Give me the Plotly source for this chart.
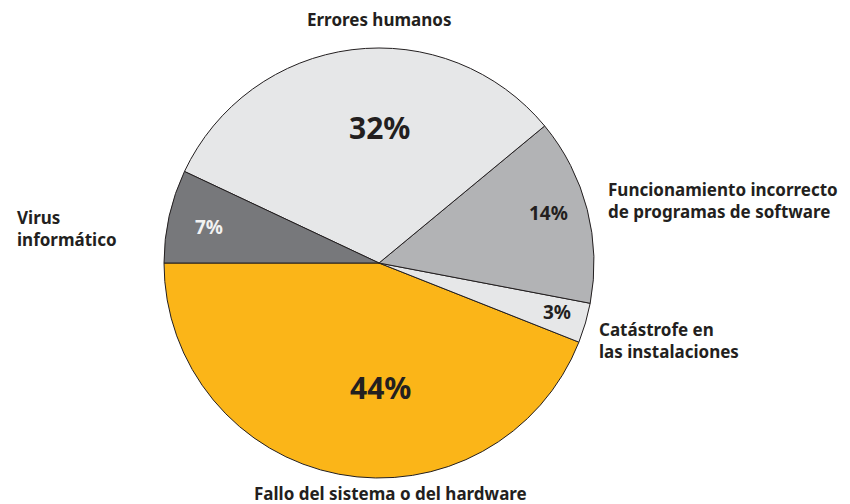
import math
import plotly.graph_objects as go

categories = ["Fallo del sistema o del hardware", "Catástrofe en las instalaciones",
              "Funcionamiento incorrecto de programas de software", "Errores humanos",
              "Virus informático"]
values = [44, 3, 14, 32, 7]
pct_labels = ["44%", "3%", "14%", "32%", "7%"]
outer_labels = ["Fallo del sistema o del hardware", "Catástrofe en<br>las instalaciones",
                "Funcionamiento incorrecto<br>de programas de software", "Errores humanos",
                "Virus<br>informático"]

colors = ["#FBB518", "#E6E7E8", "#B2B3B5", "#E6E7E8", "#77787B"]
pct_sizes = [30, 19, 19, 30, 19]
pct_colors = ["#231F20", "#231F20", "#231F20", "#231F20", "#F2F2F2"]
pct_radius = [0.58, 0.86, 0.82, 0.63, 0.81]
pct_angle_shift = [11.3, 0.8, 2.0, -7.2, 0.6]

OFF = 8                    # page body margin in the browser
W, H = 850 - OFF, 504 - OFF
cx, cy, R = 379 - OFF, 263 - OFF, 215  # pixels from top-left of the figure
FONT = "Noto Sans"

total = sum(values)
# counterclockwise, first slice ending (clockwise angle) at 9 o'clock
rotation = 270 - 360.0 * values[0] / total

fig = go.Figure(go.Pie(
    labels=categories, values=values, sort=False, direction="counterclockwise",
    rotation=rotation, textinfo="none", hoverinfo="label+percent",
    marker=dict(colors=colors, line=dict(color="#231F20", width=1)),
    domain=dict(x=[(cx - R) / W, (cx + R) / W], y=[(H - cy - R) / H, (H - cy + R) / H]),
    showlegend=False,
))

annotations = []
start = 180.0  # degrees, math convention
for i, v in enumerate(values):
    span = 360.0 * v / total
    mid = math.radians(start + span / 2 + pct_angle_shift[i])
    start += span
    r = pct_radius[i] * R
    px = cx + r * math.cos(mid)
    py = cy - r * math.sin(mid)
    annotations.append(dict(
        x=px / W, y=1 - py / H, xref="paper", yref="paper", showarrow=False,
        xanchor="center", yanchor="middle",
        text="<b>%s</b>" % pct_labels[i],
        font=dict(family=FONT, size=pct_sizes[i], color=pct_colors[i]),
    ))

outer_pos = [
    (390, 493, "center"),
    (597, 340, "left"),
    (606, 200, "left"),
    (379, 20, "center"),
    (15, 228, "left"),
]
for (x, y, al), t in zip(outer_pos, outer_labels):
    annotations.append(dict(
        x=(x - OFF) / W, y=1 - (y - OFF) / H, xref="paper", yref="paper", showarrow=False,
        text="<b>%s</b>" % t, align=al,
        xanchor="left" if al == "left" else "center", yanchor="middle",
        font=dict(family=FONT, size=17, color="#231F20"),
    ))

fig.update_layout(
    width=W, height=H, margin=dict(l=0, r=0, t=0, b=0),
    paper_bgcolor="white", plot_bgcolor="white",
    annotations=annotations,
)
fig.write_html("out.html")
